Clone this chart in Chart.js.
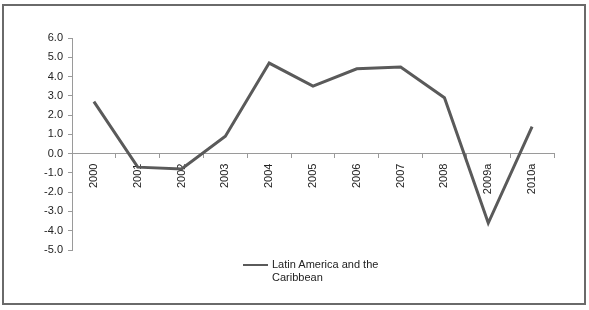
<!DOCTYPE html>
<html>
<head>
<meta charset="utf-8">
<script src="https://cdn.jsdelivr.net/npm/chart.js@4"></script>
<style>
  body { margin: 0; background: #fff; }
  #wrap { position: relative; width: 589px; height: 310px; }
  #frame { position: absolute; left: 2px; top: 4px; width: 580px; height: 297px; border: 2px solid #6a6a6a; }
  #legend { position: absolute; left: 243px; top: 258px; font: 11px "Liberation Sans", Arial, sans-serif; color: #222; line-height: 13px; }
  #legend .swatch { position: absolute; left: 0; top: 6px; width: 25px; height: 2px; background: #5a5a5a; }
  #legend .txt { position: absolute; left: 29px; top: 0; white-space: nowrap; }
</style>
</head>
<body>
<div id="wrap">
  <canvas id="chart" width="589" height="310"></canvas>
  <div id="frame"></div>
  <div id="legend"><div class="swatch"></div><div class="txt">Latin America and the<br>Caribbean</div></div>
</div>
<script>
  // Data
  const years = ["2000", "2001", "2002", "2003", "2004", "2005", "2006", "2007", "2008", "2009a", "2010a"]
  const growth = [2.7, -0.7, -0.8, 0.9, 4.7, 3.5, 4.4, 4.5, 2.9, -3.6, 1.4]
  const seriesName = "Latin America and the Caribbean"

  const axisGrey = "#9a9a9a"
  const font = { family: "'Liberation Sans', Arial, sans-serif", size: 11 }

  new Chart(document.getElementById("chart"), {
    type: "line",
    data: {
      labels: years,
      datasets: [
        {
          label: seriesName,
          data: growth,
          borderColor: "#5a5a5a",
          borderWidth: 3,
          pointRadius: 0,
          tension: 0,
          fill: false,
        },
      ],
    },
    options: {
      responsive: false,
      animation: false,
      layout: { padding: { top: 38, bottom: 60, left: 32, right: 35 } },
      plugins: {
        legend: { display: false },
        tooltip: { enabled: false },
      },
      scales: {
        x: {
          position: { y: 0 },
          offset: true,
          afterFit: (scale) => { scale.height = 0 },
          grid: {
            offset: true,
            drawOnChartArea: false,
            tickLength: 4,
            color: axisGrey,
          },
          border: { color: axisGrey, width: 1 },
          ticks: {
            minRotation: 90,
            maxRotation: 90,
            padding: 6,
            color: "#222",
            font: font,
          },
        },
        y: {
          min: -5,
          max: 6,
          afterFit: (scale) => { scale.width = 40 },
          grid: {
            drawOnChartArea: false,
            tickLength: 4,
            color: axisGrey,
          },
          border: { color: axisGrey, width: 1 },
          ticks: {
            stepSize: 1,
            padding: 5,
            color: "#222",
            font: font,
            callback: (v) => v.toFixed(1),
          },
        },
      },
    },
  })
</script>
</body>
</html>
